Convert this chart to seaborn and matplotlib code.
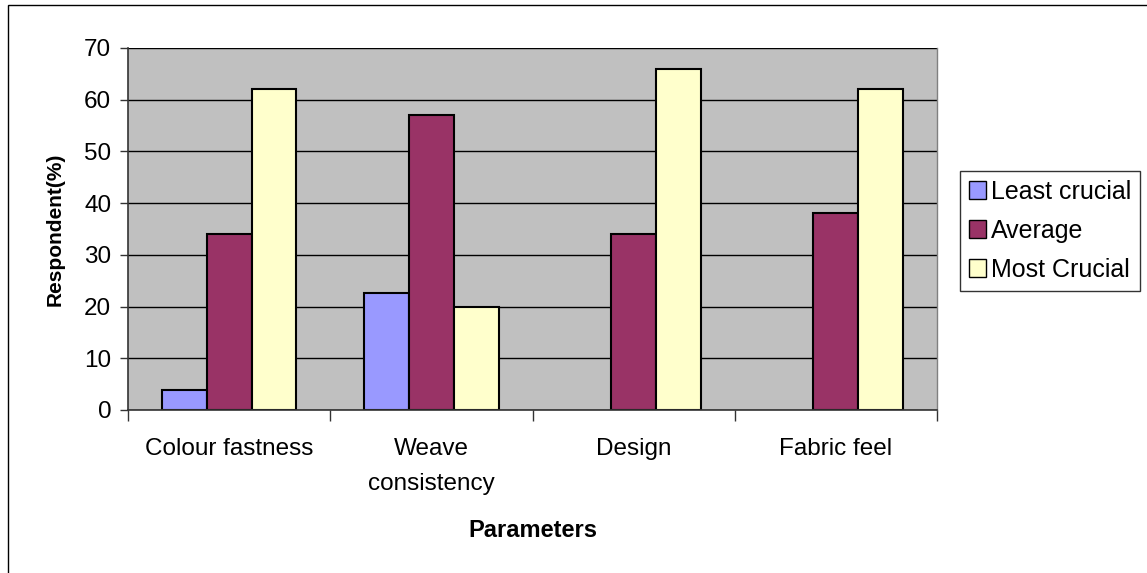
import numpy as np
import pandas as pd
import matplotlib
matplotlib.use('Agg')
import matplotlib.pyplot as plt
import seaborn as sns
from matplotlib.patches import Rectangle

# 数据
parameters = ['Colour fastness', 'Weave\nconsistency', 'Design', 'Fabric feel']
least_crucial = [3.8, 22.7, 0, 0]
average = [34, 57, 34, 38]
most_crucial = [62, 20, 66, 62]
series_names = ['Least crucial', 'Average', 'Most Crucial']
series_colors = ['#9999FF', '#993366', '#FFFFCC']

sns.set_style('white')
plt.rcParams['font.family'] = ['Liberation Sans', 'DejaVu Sans']
plt.rcParams['text.color'] = 'black'
plt.rcParams['axes.labelcolor'] = 'black'
plt.rcParams['xtick.labelcolor'] = 'black'
plt.rcParams['ytick.labelcolor'] = 'black'

df = pd.DataFrame({
    'param': parameters * 3,
    'series': np.repeat(series_names, len(parameters)),
    'value': least_crucial + average + most_crucial,
})

fig = plt.figure(figsize=(11.47, 5.73), dpi=100)
ax = fig.add_axes([128 / 1147, 1 - 410 / 573, 809 / 1147, 362 / 573])
ax.set_facecolor('#C0C0C0')
ax.set_axisbelow(True)

sns.barplot(data=df, x='param', y='value', hue='series', order=parameters,
            hue_order=series_names, palette=series_colors, width=0.665,
            edgecolor='black', linewidth=1.5, saturation=1, ax=ax)

# 零值柱子不画边框
for cont in ax.containers:
    for bar in cont:
        if bar.get_height() == 0:
            bar.set_linewidth(0)

ax.set_ylim(0, 70)
ax.set_xlim(-0.5, 3.5)
ax.set_yticks(range(0, 71, 10))
ax.yaxis.grid(True, color='black', linewidth=1)
ax.xaxis.grid(False)

# 刻度线放在分组边界上
ax.set_xticks(range(len(parameters)))
ax.set_xticklabels(parameters, linespacing=1.8, va='top')
ax.set_xticks(np.arange(-0.5, 3.6, 1), minor=True)
ax.tick_params(axis='x', which='minor', length=8, width=1, color='#333333', direction='out')
ax.tick_params(axis='x', which='major', length=0, pad=20, labelsize=17.5, labelcolor='black')
ax.tick_params(axis='y', length=6, width=1, color='#333333', direction='out', pad=6,
               labelsize=17.5, labelcolor='black')
ax.yaxis.set_ticks_position('left')
ax.xaxis.set_ticks_position('bottom')

for side in ['left', 'bottom']:
    ax.spines[side].set_color('#333333')
    ax.spines[side].set_linewidth(1.2)
ax.spines['top'].set_visible(False)
ax.spines['right'].set_color('#808080')
ax.spines['right'].set_linewidth(1)

ax.set_xlabel('Parameters', fontsize=17, fontweight='bold', labelpad=17, color='black')
ax.set_ylabel('Respondent(%)', fontsize=15, fontweight='bold', labelpad=14, color='black')

handles, labels = ax.get_legend_handles_labels()
for h in handles:
    h.set_edgecolor('black')
    h.set_linewidth(1)
leg = ax.legend(handles, labels, loc='center left', bbox_to_anchor=(960 / 1147, 1 - 231 / 573),
                bbox_transform=fig.transFigure, fontsize=18, frameon=True, fancybox=False,
                edgecolor='black', handlelength=0.7, handleheight=0.7, handletextpad=0.2,
                labelspacing=0.6, borderpad=0.35, borderaxespad=0, labelcolor='black')
leg.get_frame().set_linewidth(1)

# 图表外框
fig.patches.append(Rectangle((8 / 1147, -0.05), 1.1, 1 - 5 / 573 + 0.05,
                             transform=fig.transFigure, fill=False,
                             edgecolor='black', linewidth=1))

fig.savefig('out.png', dpi=100)
